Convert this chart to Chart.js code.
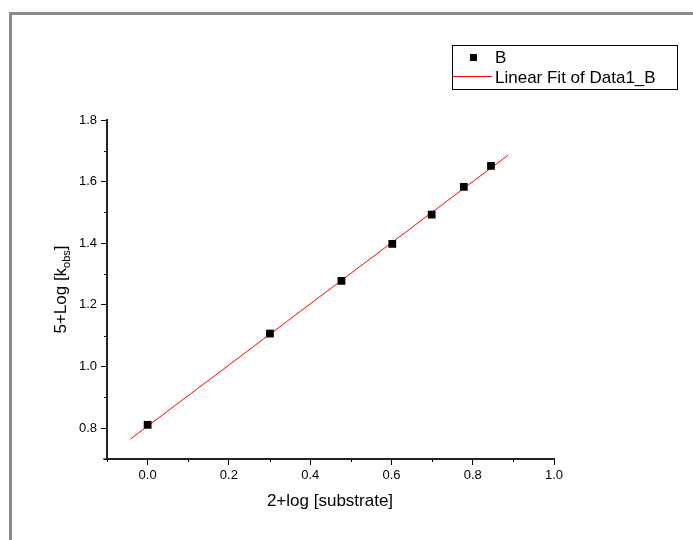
<!DOCTYPE html>
<html>
<head>
<meta charset="utf-8">
<script src="https://cdn.jsdelivr.net/npm/chart.js@4"></script>
<style>
  html, body { margin: 0; padding: 0; background: #fff; }
  #wrap { position: relative; width: 693px; height: 540px; overflow: hidden; }
  #frame { position: absolute; left: 9px; top: 12px; width: 720px; height: 560px;
           border-left: 3px solid #8c8c8c; border-top: 3px solid #8c8c8c; }
  canvas { position: absolute; left: 0; top: 0; }
</style>
</head>
<body>
<div id="wrap">
  <div id="frame"></div>
  <canvas id="chart" width="693" height="540"></canvas>
</div>
<script>
// measured points (x = 2+log[substrate], y = 5+log[kobs])
const xValues = [0, 0.301, 0.477, 0.602, 0.699, 0.778, 0.845];
const yValues = [0.811, 1.107, 1.278, 1.398, 1.493, 1.583, 1.651];
// fitted line end points
const fitX = [-0.042, 0.887];
const fitY = [0.765, 1.686];

const seriesLabel = 'B';
const fitLabel = 'Linear Fit of Data1_B';
const xTitle = '2+log [substrate]';
const yTitleParts = ['5+Log [k', 'obs', ']'];

const xRange = [-0.1, 1.0];
const yRange = [0.7, 1.8];

const FONT = '"Liberation Sans", Arial, sans-serif';
const POINT_COLOR = '#000000';
const FIT_COLOR = '#ff0000';

const isMajor = v => Math.round(v * 10) % 2 === 0;

const extras = {
    id: 'extras',
    afterDraw(chart) {
        const ctx = chart.ctx;
        const xs = chart.scales.x, ys = chart.scales.y;
        const area = chart.chartArea;
        ctx.save();

        // minor ticks
        ctx.strokeStyle = '#000';
        ctx.lineWidth = 1;
        ctx.beginPath();
        xs.ticks.forEach(t => {
            if (isMajor(t.value)) return;
            const px = Math.round(xs.getPixelForValue(t.value)) + 0.5;
            ctx.moveTo(px, area.bottom);
            ctx.lineTo(px, area.bottom + 3);
        });
        ys.ticks.forEach(t => {
            if (isMajor(t.value)) return;
            const py = Math.round(ys.getPixelForValue(t.value)) + 0.5;
            ctx.moveTo(area.left, py);
            ctx.lineTo(area.left - 3, py);
        });
        // x axis line runs a little past the y axis, like the original
        ctx.moveTo(area.left - 4, area.bottom);
        ctx.lineTo(area.left, area.bottom);
        ctx.stroke();

        // x title
        ctx.fillStyle = '#000';
        ctx.font = '17px ' + FONT;
        ctx.textAlign = 'center';
        ctx.textBaseline = 'middle';
        ctx.fillText(xTitle, 330, 501);

        // y title with subscript
        ctx.translate(61, (area.top + area.bottom) / 2);
        ctx.rotate(-Math.PI / 2);
        ctx.font = '17px ' + FONT;
        const w0 = ctx.measureText(yTitleParts[0]).width;
        ctx.font = '11px ' + FONT;
        const w1 = ctx.measureText(yTitleParts[1]).width;
        ctx.font = '17px ' + FONT;
        const w2 = ctx.measureText(yTitleParts[2]).width;
        let x0 = -(w0 + w1 + w2) / 2;
        ctx.textAlign = 'left';
        ctx.fillText(yTitleParts[0], x0, 0);
        ctx.font = '11px ' + FONT;
        ctx.fillText(yTitleParts[1], x0 + w0, 6);
        ctx.font = '17px ' + FONT;
        ctx.fillText(yTitleParts[2], x0 + w0 + w1, 0);
        ctx.restore();

        // legend box
        ctx.save();
        const lx = 452, ly = 45, lw = 225, lh = 44;
        ctx.strokeStyle = '#000';
        ctx.lineWidth = 1;
        ctx.strokeRect(lx + 0.5, ly + 0.5, lw, lh);
        ctx.fillStyle = POINT_COLOR;
        ctx.fillRect(470, 54, 7, 7);
        ctx.strokeStyle = FIT_COLOR;
        ctx.lineWidth = 1;
        ctx.beginPath();
        ctx.moveTo(lx + 1, 76.5);
        ctx.lineTo(lx + 40, 76.5);
        ctx.stroke();
        ctx.fillStyle = '#000';
        ctx.font = '17px ' + FONT;
        ctx.textAlign = 'left';
        ctx.textBaseline = 'middle';
        ctx.fillText(chart.data.datasets[0].label, 495, 58);
        ctx.fillText(chart.data.datasets[1].label, 495, 78);
        ctx.restore();
    }
};

new Chart(document.getElementById('chart'), {
    type: 'scatter',
    data: {
        datasets: [
            {
                label: seriesLabel,
                data: xValues.map((x, i) => ({ x: x, y: yValues[i] })),
                pointStyle: 'rect',
                pointRadius: 5.5,
                pointHoverRadius: 5.5,
                backgroundColor: POINT_COLOR,
                borderColor: POINT_COLOR,
                borderWidth: 0
            },
            {
                label: fitLabel,
                type: 'line',
                data: fitX.map((x, i) => ({ x: x, y: fitY[i] })),
                borderColor: FIT_COLOR,
                borderWidth: 1,
                pointRadius: 0,
                fill: false
            }
        ]
    },
    options: {
        responsive: false,
        animation: false,
        layout: { padding: { left: 0, top: 120, right: 139, bottom: 0 } },
        plugins: { legend: { display: false }, tooltip: { enabled: false } },
        scales: {
            x: {
                type: 'linear',
                min: xRange[0],
                max: xRange[1],
                afterFit: s => { s.height = 81; },
                border: { display: true, color: '#222', width: 2 },
                grid: { drawOnChartArea: false, drawTicks: true, tickLength: 6,
                        tickColor: c => isMajor(c.tick.value) ? '#000' : 'rgba(0,0,0,0)' },
                ticks: {
                    stepSize: 0.1,
                    padding: 3,
                    color: '#000',
                    font: { family: FONT, size: 13 },
                    maxRotation: 0,
                    autoSkip: false,
                    callback: v => (isMajor(v) && v > -0.05) ? v.toFixed(1) : ''
                }
            },
            y: {
                type: 'linear',
                min: yRange[0],
                max: yRange[1],
                afterFit: s => { s.width = 107; },
                border: { display: true, color: '#222', width: 2 },
                grid: { drawOnChartArea: false, drawTicks: true, tickLength: 6,
                        tickColor: c => isMajor(c.tick.value) ? '#000' : 'rgba(0,0,0,0)' },
                ticks: {
                    stepSize: 0.1,
                    padding: 4,
                    color: '#000',
                    font: { family: FONT, size: 13 },
                    autoSkip: false,
                    callback: v => isMajor(v) ? v.toFixed(1) : ''
                }
            }
        }
    },
    plugins: [extras]
});
</script>
</body>
</html>
